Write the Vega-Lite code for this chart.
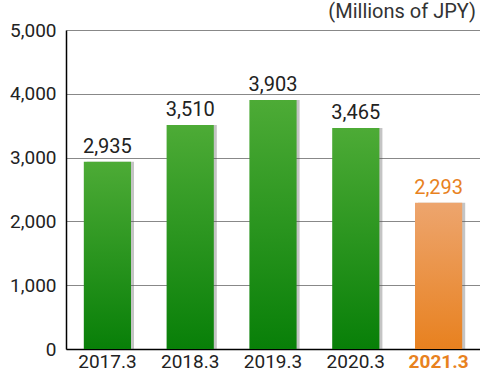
{
  "$schema": "https://vega.github.io/schema/vega-lite/v6.json",
  "autosize": {"type": "none"},
  "width": 414,
  "height": 319,
  "padding": {"left": 66, "top": 30, "right": 0, "bottom": 27},
  "background": "white",
  "title": {
    "text": "(Millions of JPY)",
    "anchor": "end",
    "frame": "group",
    "offset": -1,
    "dx": -4,
    "fontSize": 20,
    "fontWeight": "normal",
    "font": "Roboto",
    "color": "#333333"
  },
  "config": {
    "view": {"stroke": null},
    "font": "Roboto"
  },
  "data": {
    "values": [
      {"year": "2017.3", "value": 2935, "hl": "no"},
      {"year": "2018.3", "value": 3510, "hl": "no"},
      {"year": "2019.3", "value": 3903, "hl": "no"},
      {"year": "2020.3", "value": 3465, "hl": "no"},
      {"year": "2021.3", "value": 2293, "hl": "yes"}
    ]
  },
  "encoding": {
    "x": {
      "field": "year",
      "type": "nominal",
      "sort": null,
      "scale": {"paddingInner": 0.43, "paddingOuter": 0.215},
      "axis": {
        "title": null,
        "labelAngle": 0,
        "labelFontSize": 19,
        "labelPadding": 3,
        "labelColor": {"condition": {"test": "datum.value == '2021.3'", "value": "#e8821e"}, "value": "#222222"},
        "labelFontWeight": {"condition": {"test": "datum.value == '2021.3'", "value": "bold"}, "value": "normal"},
        "ticks": false,
        "domainColor": "#000000",
        "domainWidth": 1.5,
        "grid": false
      }
    },
    "y": {
      "field": "value",
      "type": "quantitative",
      "scale": {"domain": [0, 5000], "nice": false},
      "axis": {
        "title": null,
        "values": [0, 1000, 2000, 3000, 4000, 5000],
        "format": ",d",
        "labelFontSize": 19,
        "labelColor": "#222222",
        "labelPadding": 10,
        "ticks": false,
        "domainColor": "#000000",
        "domainWidth": 1.5,
        "gridColor": "#888888",
        "gridWidth": 1
      }
    }
  },
  "layer": [
    {
      "mark": {"type": "bar", "xOffset": 3, "color": "#555555", "opacity": 0.35},
      "encoding": {}
    },
    {
      "mark": {"type": "bar"},
      "encoding": {
        "color": {
          "condition": {
            "test": "datum.hl == 'yes'",
            "value": {
              "gradient": "linear", "x1": 0, "y1": 0, "x2": 0, "y2": 1,
              "stops": [{"offset": 0, "color": "#eda56e"}, {"offset": 1, "color": "#e8811f"}]
            }
          },
          "value": {
            "gradient": "linear", "x1": 0, "y1": 0, "x2": 0, "y2": 1,
            "stops": [{"offset": 0, "color": "#4dab36"}, {"offset": 1, "color": "#087f08"}]
          }
        }
      }
    },
    {
      "mark": {"type": "text", "baseline": "bottom", "dy": -5, "fontSize": 20},
      "encoding": {
        "text": {"field": "value", "type": "quantitative", "format": ",d"},
        "color": {
          "condition": {"test": "datum.hl == 'yes'", "value": "#e8821e"},
          "value": "#222222"
        }
      }
    }
  ]
}
